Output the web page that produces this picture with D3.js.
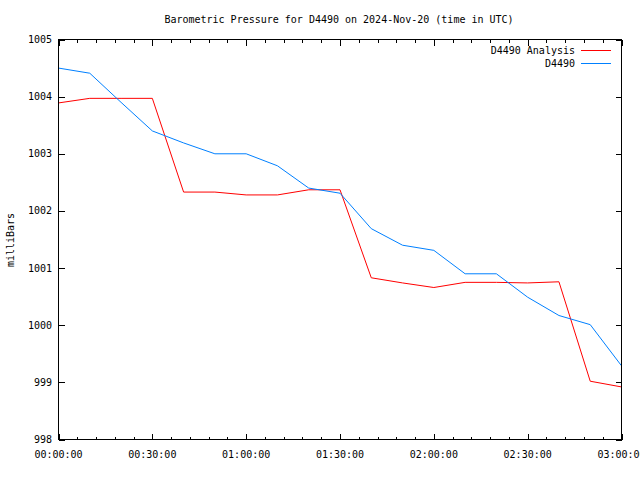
<!DOCTYPE html>
<html><head><meta charset="utf-8">
<script src="https://cdn.jsdelivr.net/npm/d3@7"></script>
<style>
body{margin:0;background:#fff;}
text{font-family:"DejaVu Sans Mono","Liberation Mono",monospace;font-size:10px;fill:#000;}
</style></head>
<body><svg id="c" width="640" height="480"></svg>
<script>
const minutes = [0,10,20,30,40,50,60,70,80,90,100,110,120,130,140,150,160,170,180];
const analysis = [1003.89,1003.97,1003.97,1003.97,1002.33,1002.33,1002.28,1002.28,1002.37,1002.37,1000.83,1000.74,1000.66,1000.75,1000.75,1000.74,1000.76,999.02,998.92];
const observed = [1004.50,1004.41,1003.90,1003.40,1003.19,1003.00,1003.00,1002.79,1002.40,1002.31,1001.69,1001.40,1001.31,1000.90,1000.90,1000.49,1000.17,1000.01,999.29];
const yTicks = [998,999,1000,1001,1002,1003,1004,1005];
const seriesNames = ["D4490 Analysis","D4490"];
const seriesColors = ["#ff0000","#0080ff"];
const titleText = "Barometric Pressure for D4490 on 2024-Nov-20 (time in UTC)";
const yLabel = "milliBars";

const base = Date.UTC(2024,10,20,0,0,0);
const toDate = m => new Date(base + m*60000);

const L=58.5, R=621.5, T=39.5, B=439.5;
const svg = d3.select("#c");
const x = d3.scaleUtc().domain([toDate(0), toDate(180)]).range([L,R]);
const y = d3.scaleLinear().domain([998,1005]).range([B,T]);

svg.append("text").attr("x",339).attr("y",23).attr("text-anchor","middle").text(titleText);

// ticks
const g = svg.append("g").attr("stroke","#000").attr("stroke-width",1).attr("shape-rendering","crispEdges");
const minor = d3.utcMinute.every(6).range(toDate(0), toDate(181));
minor.forEach(d=>{
  const major = d.getUTCMinutes()%30===0;
  const len = major?6:3;
  const px = Math.round(x(d))+0.5;
  g.append("line").attr("x1",px).attr("x2",px).attr("y1",B).attr("y2",B-len);
  g.append("line").attr("x1",px).attr("x2",px).attr("y1",T).attr("y2",T+len);
});
yTicks.forEach(v=>{
  const py = Math.round(y(v))+0.5;
  g.append("line").attr("x1",L).attr("x2",L+6).attr("y1",py).attr("y2",py);
  g.append("line").attr("x1",R).attr("x2",R-6).attr("y1",py).attr("y2",py);
  svg.append("text").attr("x",52).attr("y",y(v)).attr("dy","0.35em").attr("text-anchor","end").text(v);
});
x.ticks(d3.utcMinute.every(30)).forEach(d=>{
  svg.append("text").attr("x",x(d)).attr("y",458).attr("text-anchor","middle").text(d3.utcFormat("%H:%M:%S")(d));
});
svg.append("text").attr("transform","translate(14,240) rotate(-90)").attr("text-anchor","middle").text(yLabel);

// lines
const line = d3.line().x((d,i)=>x(toDate(minutes[i]))).y(d=>y(d));
[analysis, observed].forEach((s,k)=>{
  svg.append("path").datum(s).attr("d",line).attr("fill","none")
    .attr("stroke",seriesColors[k]).attr("stroke-width",1);
});

// border
svg.append("rect").attr("x",L).attr("y",T).attr("width",R-L).attr("height",B-T)
  .attr("fill","none").attr("stroke","#000").attr("shape-rendering","crispEdges");

// legend
seriesNames.forEach((n,k)=>{
  const ly = 50 + k*13;
  svg.append("text").attr("x",575).attr("y",ly).attr("dy","0.35em").attr("text-anchor","end").text(n);
  svg.append("line").attr("x1",581).attr("x2",611).attr("y1",ly+0.5).attr("y2",ly+0.5)
    .attr("stroke",seriesColors[k]).attr("shape-rendering","crispEdges");
});
</script></body></html>
